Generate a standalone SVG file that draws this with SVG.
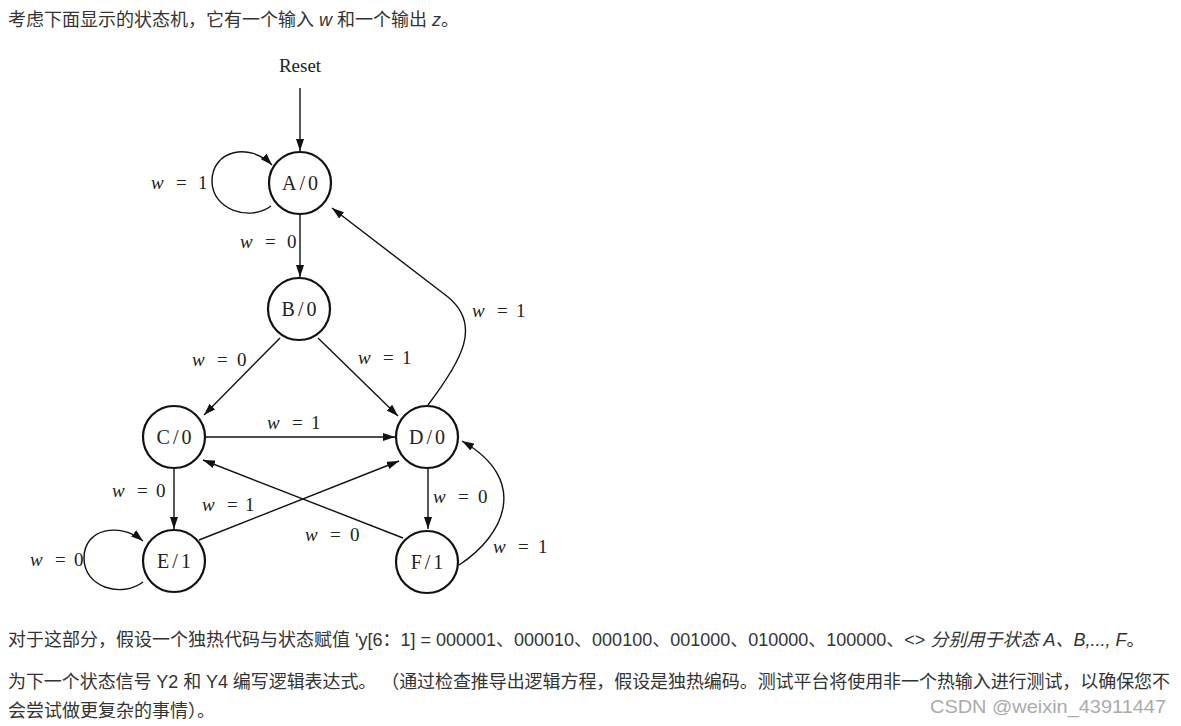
<svg xmlns="http://www.w3.org/2000/svg" width="1181" height="726" viewBox="0 0 1181 726">
<defs>
<marker id="arr" viewBox="0 0 12 8" refX="12" refY="4" markerWidth="12" markerHeight="8" markerUnits="userSpaceOnUse" orient="auto">
<path d="M0,0 L12,4 L0,8 Z" fill="#111"/>
</marker>
<style>
.cn{font-family:"Liberation Sans","Noto Sans CJK SC",sans-serif;font-size:18px;fill:#333}
.it{font-style:italic}
.node circle{fill:#fff;stroke:#111;stroke-width:2.2}
.node text{font-family:"Liberation Serif",serif;font-size:20px;fill:#222;text-anchor:middle}
.edge{fill:none;stroke:#111;stroke-width:1.4}
.lbl{font-family:"Liberation Serif",serif;font-size:19px;fill:#222}
.lbl .w{font-style:italic}
.wm{font-family:"Liberation Sans",sans-serif;font-size:19px;fill:#aaa}
</style>
</defs>
<rect width="1181" height="726" fill="#fff"/>

<text class="cn" x="8" y="26">考虑下面显示的状态机，它有一个输入 <tspan class="it">w</tspan> 和一个输出 <tspan class="it">z</tspan>。</text>

<text x="300" y="72" font-family="Liberation Serif, serif" font-size="19" fill="#222" text-anchor="middle">Reset</text>

<g id="connectors">
<path class="edge" d="M300,88 L300,151" marker-end="url(#arr)"/>
<path class="edge" d="M271,206 C250,222 212,210 212,181 C212,150 250,142 272,165" marker-end="url(#arr)"/>
<path class="edge" d="M300,214 L300,277" marker-end="url(#arr)"/>
<path class="edge" d="M280,338 L204,415" marker-end="url(#arr)"/>
<path class="edge" d="M318,338 L398,416" marker-end="url(#arr)"/>
<path class="edge" d="M428,405 C462,360 482,325 448,297 L332,208" marker-end="url(#arr)"/>
<path class="edge" d="M205,437 L395,437" marker-end="url(#arr)"/>
<path class="edge" d="M174,468 L174,529" marker-end="url(#arr)"/>
<path class="edge" d="M428,468 L428,529" marker-end="url(#arr)"/>
<path class="edge" d="M199,540 L399,461" marker-end="url(#arr)"/>
<path class="edge" d="M403,538 L203,460" marker-end="url(#arr)"/>
<path class="edge" d="M143,582 C122,598 84,588 84,558 C84,528 120,522 143,541" marker-end="url(#arr)"/>
<path class="edge" d="M459,565 C505,535 530,480 462,441" marker-end="url(#arr)"/>
</g>

<g id="labels">
<text class="lbl" y="189"><tspan class="w" x="151">w</tspan><tspan x="176">=</tspan><tspan x="198">1</tspan></text>
<text class="lbl" y="248"><tspan class="w" x="240">w</tspan><tspan x="265">=</tspan><tspan x="287">0</tspan></text>
<text class="lbl" y="366"><tspan class="w" x="192">w</tspan><tspan x="217">=</tspan><tspan x="237">0</tspan></text>
<text class="lbl" y="364"><tspan class="w" x="358">w</tspan><tspan x="383">=</tspan><tspan x="402">1</tspan></text>
<text class="lbl" y="317"><tspan class="w" x="472">w</tspan><tspan x="497">=</tspan><tspan x="516">1</tspan></text>
<text class="lbl" y="429"><tspan class="w" x="267">w</tspan><tspan x="292">=</tspan><tspan x="311">1</tspan></text>
<text class="lbl" y="497"><tspan class="w" x="112">w</tspan><tspan x="137">=</tspan><tspan x="156">0</tspan></text>
<text class="lbl" y="511"><tspan class="w" x="202">w</tspan><tspan x="227">=</tspan><tspan x="245">1</tspan></text>
<text class="lbl" y="541"><tspan class="w" x="305">w</tspan><tspan x="330">=</tspan><tspan x="350">0</tspan></text>
<text class="lbl" y="566"><tspan class="w" x="30">w</tspan><tspan x="55">=</tspan><tspan x="74">0</tspan></text>
<text class="lbl" y="503"><tspan class="w" x="433">w</tspan><tspan x="458">=</tspan><tspan x="478">0</tspan></text>
<text class="lbl" y="553"><tspan class="w" x="493">w</tspan><tspan x="518">=</tspan><tspan x="538">1</tspan></text>
</g>

<g id="nodeA" class="node"><circle cx="300" cy="183" r="31"/><text x="300" y="190">A<tspan dx="3">/</tspan><tspan dx="3">0</tspan></text></g>
<g id="nodeB" class="node"><circle cx="299" cy="309" r="31"/><text x="299" y="316">B<tspan dx="3">/</tspan><tspan dx="3">0</tspan></text></g>
<g id="nodeC" class="node"><circle cx="174" cy="437" r="31"/><text x="174" y="444">C<tspan dx="3">/</tspan><tspan dx="3">0</tspan></text></g>
<g id="nodeD" class="node"><circle cx="427" cy="437" r="31"/><text x="427" y="444">D<tspan dx="3">/</tspan><tspan dx="3">0</tspan></text></g>
<g id="nodeE" class="node"><circle cx="174" cy="561" r="31"/><text x="174" y="568">E<tspan dx="3">/</tspan><tspan dx="3">1</tspan></text></g>
<g id="nodeF" class="node"><circle cx="427" cy="562" r="31"/><text x="427" y="569">F<tspan dx="3">/</tspan><tspan dx="3">1</tspan></text></g>

<text class="cn" x="8" y="646">对于这部分，假设一个独热代码与状态赋值 'y[6：1] = 000001、000010、000100、001000、010000、100000、&lt;&gt; <tspan class="it">分别用于状态 A、B,..., F</tspan>。</text>
<text class="cn" x="8" y="688" textLength="1162" lengthAdjust="spacing">为下一个状态信号 Y2 和 Y4 编写逻辑表达式。 （通过检查推导出逻辑方程，假设是独热编码。测试平台将使用非一个热输入进行测试，以确保您不</text>
<text class="cn" x="8" y="717">会尝试做更复杂的事情）。</text>
<text class="wm" x="930" y="713" textLength="236" lengthAdjust="spacingAndGlyphs">CSDN @weixin_43911447</text>
</svg>
